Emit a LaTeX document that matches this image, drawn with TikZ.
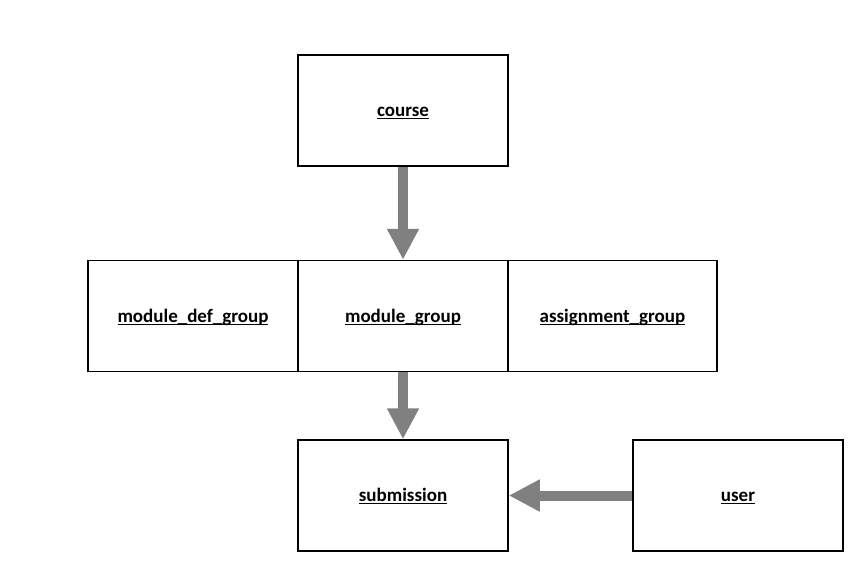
\documentclass[tikz,border=0pt]{standalone}
\usepackage{fontspec}
\setmainfont{Carlito}
\usetikzlibrary{arrows.meta}
\pgfdeclarelayer{background}
\pgfsetlayers{background,main}
\definecolor{arrowgray}{RGB}{128,128,128}
\newcommand\ulbox[1]{\underline{\smash{#1}\rule{0pt}{14.9pt}}}
\tikzset{
  entity/.style={draw=black, line width=1.5pt, minimum width=210pt, minimum height=111pt, inner sep=0pt,
    font=\fontsize{19pt}{22pt}\selectfont\bfseries},
  bigarrow/.style={draw=arrowgray, line width=10pt, -{Triangle[width=30pt,length=31pt]}}
}
\begin{document}
\begin{tikzpicture}[x=1pt,y=-1pt]
\useasboundingbox (0,0) rectangle (868,582);
\node[entity] (course) at (403,110.5) {\ulbox{course}};
\node[entity] (mdg) at (193,316) {\ulbox{module\_def\_group}};
\node[entity] (mg) at (403,316) {\ulbox{module\_group}};
\node[entity, minimum width=209pt] (ag) at (612.5,316) {\ulbox{assignment\_group}};
\node[entity] (sub) at (403,495.5) {\ulbox{submission}};
\node[entity] (user) at (738,495.5) {\ulbox{user}};
\begin{pgfonlayer}{background}
\draw[bigarrow] (course.south) -- (mg.north);
\draw[bigarrow] (mg.south) -- (sub.north);
\draw[bigarrow] (user.west) -- (sub.east);
\end{pgfonlayer}
\end{tikzpicture}
\end{document}
